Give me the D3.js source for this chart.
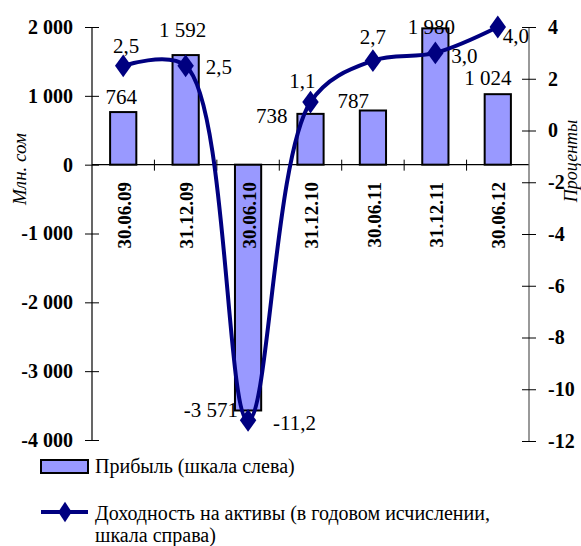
<!DOCTYPE html>
<html><head><meta charset="utf-8">
<script src="https://cdn.jsdelivr.net/npm/d3@7"></script>
<style>
html,body{margin:0;padding:0;background:#fff;}
svg{display:block;font-family:"Liberation Serif","Times New Roman",serif;}
</style></head>
<body><svg id="c" width="581" height="546"></svg>
<script>
const categories = ["30.06.09","31.12.09","30.06.10","31.12.10","30.06.11","31.12.11","30.06.12"];
const profit = [764, 1592, -3571, 738, 787, 1980, 1024];
const roa = [2.5, 2.5, -11.2, 1.1, 2.7, 3.0, 4.0];
const leftTicks = [2000, 1000, 0, -1000, -2000, -3000, -4000];
const rightTicks = [4, 2, 0, -2, -4, -6, -8, -10, -12];
const profitLabels = ["764","1 592","-3 571","738","787","1 980","1 024"];
const roaLabels = ["2,5","2,5","-11,2","1,1","2,7","3,0","4,0"];
const legendItems = ["Прибыль (шкала слева)", "Доходность на активы (в годовом исчислении,", "шкала справа)"];

const svg = d3.select("#c");
const L = 92, R = 529;
const x = d3.scaleBand().domain(categories).range([L, R]).paddingInner(0.58).paddingOuter(0.29);
const xc = d => x(d) + x.bandwidth()/2;
const yL = d3.scaleLinear().domain([-4000, 2000]).range([440, 27]);
const yR = d3.scaleLinear().domain([-12, 4]).range([441, 27]);
const loc = d3.formatLocale({decimal:",", thousands:"\u00a0", grouping:[3], currency:["",""], minus:"-"});
const fmt = loc.format(",d");

const navy = "#000080", barFill = "#9999FF";

// bars
svg.append("g").selectAll("rect").data(profit).join("rect")
  .attr("x", (d,i) => x(categories[i]))
  .attr("width", x.bandwidth())
  .attr("y", d => yL(Math.max(0,d)))
  .attr("height", d => Math.abs(yL(d) - yL(0)))
  .attr("fill", barFill).attr("stroke", "#000").attr("stroke-width", 2);

// x axis line and boundary ticks
const y0 = yL(0);
svg.append("line").attr("x1", L).attr("x2", R).attr("y1", y0).attr("y2", y0).attr("stroke","#000").attr("stroke-width",1.2);
const step = x.step();
svg.append("g").selectAll("line").data(d3.range(1, categories.length)).join("line")
  .attr("x1", i => L + i*step).attr("x2", i => L + i*step)
  .attr("y1", y0 - 5).attr("y2", y0 + 6).attr("stroke","#000").attr("stroke-width",1);

// category labels
svg.append("g").selectAll("text").data(categories).join("text")
  .attr("transform", d => `translate(${xc(d)+1},182) rotate(-90)`)
  .attr("text-anchor","end").attr("dy","0.35em")
  .attr("font-weight","bold").attr("font-size", 19).text(d => d);

// left axis
const axL = svg.append("g").attr("transform", `translate(${L},0)`)
  .call(d3.axisLeft(yL).tickValues(leftTicks).tickFormat(fmt).tickSize(7).tickPadding(12));
axL.attr("font-family", null);
axL.select(".domain").attr("stroke","#000").attr("stroke-width",1.2).attr("d", `M0,${yL(2000)}V${yL(-4000)}`);
axL.selectAll(".tick line").attr("x1", 7);
axL.selectAll(".tick text").attr("font-size",20).attr("font-weight","bold").attr("fill","#000");

// right axis
const axR = svg.append("g").attr("transform", `translate(${R},0)`)
  .call(d3.axisRight(yR).tickValues(rightTicks).tickFormat(d => d).tickSize(7).tickPadding(12));
axR.attr("font-family", null);
axR.select(".domain").attr("stroke","#555").attr("stroke-width",1.2).attr("d", `M0,${yR(4)}V${yR(-12)}`);
axR.selectAll(".tick line").attr("x1", -7);
axR.selectAll(".tick text").attr("font-size",20).attr("font-weight","bold").attr("fill","#000");

// axis titles
svg.append("text").attr("transform","translate(26,169) rotate(-90)").attr("text-anchor","middle")
  .attr("font-style","italic").attr("font-size",19).text("Млн. сом");
svg.append("text").attr("transform","translate(577,161) rotate(-90)").attr("text-anchor","middle")
  .attr("font-style","italic").attr("font-size",18).text("Проценты");

// line
const line = d3.line().x((d,i) => xc(categories[i])).y(d => yR(d)).curve(d3.curveCatmullRom.alpha(0.5));
svg.append("path").datum(roa).attr("d", line).attr("fill","none").attr("stroke", navy).attr("stroke-width",4);
const diamond = d3.symbol().type(d3.symbolDiamond).size(150);
svg.append("g").selectAll("path").data(roa).join("path")
  .attr("transform", (d,i) => `translate(${xc(categories[i])},${yR(d)}) scale(1.25,1)`)
  .attr("d", diamond).attr("fill", navy);

// profit labels: [dx from bar centre, dy from bar end, anchor]
const pOff = [[-2,-8,"middle"],[-3,-18,"middle"],[-10,7,"end"],[-23,9,"end"],[-4,-2,"end"],[-4,6,"middle"],[-10,-9,"middle"]];
svg.append("g").selectAll("text").data(profit).join("text")
  .attr("x", (d,i) => xc(categories[i]) + pOff[i][0])
  .attr("y", (d,i) => yL(d) + pOff[i][1])
  .attr("text-anchor", (d,i) => pOff[i][2])
  .attr("font-size", 21).text((d,i) => profitLabels[i]);

// roa labels
const rOff = [[3,-13,"middle"],[20,8,"start"],[25,10,"start"],[5,-14,"end"],[0,-17,"middle"],[16,10,"start"],[5,16,"start"]];
svg.append("g").selectAll("text").data(roa).join("text")
  .attr("x", (d,i) => xc(categories[i]) + rOff[i][0])
  .attr("y", (d,i) => yR(d) + rOff[i][1])
  .attr("text-anchor", (d,i) => rOff[i][2])
  .attr("font-size", 21).text((d,i) => roaLabels[i]);

// legend
const lg = svg.append("g");
lg.append("rect").attr("x",41).attr("y",460).attr("width",47).attr("height",13).attr("fill",barFill).attr("stroke","#000").attr("stroke-width",2);
lg.append("text").attr("x",95).attr("y",473).attr("font-size",20).text(legendItems[0]);
lg.append("line").attr("x1",41).attr("x2",88).attr("y1",512).attr("y2",512).attr("stroke",navy).attr("stroke-width",4);
lg.append("path").attr("transform","translate(65,512) scale(1.15,1)").attr("d", d3.symbol().type(d3.symbolDiamond).size(120)).attr("fill",navy);
lg.append("text").attr("x",95).attr("y",520).attr("font-size",20).text(legendItems[1]);
lg.append("text").attr("x",95).attr("y",542).attr("font-size",20).text(legendItems[2]);
</script></body></html>
